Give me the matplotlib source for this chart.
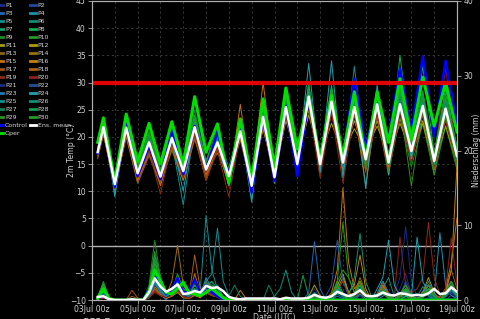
import pandas as pd
import matplotlib
matplotlib.use('Agg')
import matplotlib.pyplot as plt
import matplotlib.dates as mdates
from matplotlib.lines import Line2D
from matplotlib.ticker import MultipleLocator

# 2m temperature: 03Jul 06z, then every 12h up to 19Jul 00z
temp_times = pd.DatetimeIndex([pd.Timestamp('2023-07-03 06:00')]).append(
    pd.date_range('2023-07-03 12:00', '2023-07-19 00:00', freq='12h'))
# precipitation: every 6h from 03Jul 06z to 19Jul 00z
precip_times = pd.date_range('2023-07-03 06:00', '2023-07-19 00:00', freq='6h')

member_names = ['P%d' % i for i in range(1, 31)]
member_colors = ['#1c2c8c', '#1f4aa0', '#2068b0', '#2090b0', '#108f90', '#10907a',
                 '#10a070', '#10b050', '#208a20', '#20a020', '#a0a010', '#b09a10',
                 '#8c6410', '#a07010', '#c87010', '#c88010', '#a05010', '#b06010',
                 '#902a10', '#902020', '#1c2c80', '#1f50a0', '#2078b0', '#20a0b0',
                 '#108f8f', '#10907a', '#108060', '#10a050', '#309020', '#20a020']

temp_members = [
    [17.5, 23.0, 11.0, 21.0, 13.0, 18.5, 12.0, 20.5, 13.0, 27.5, 14.5, 20.0, 12.0, 23.0, 10.5, 25.0, 13.0, 27.0, 14.0, 29.0, 15.5, 28.0, 14.0, 24.0, 16.0, 27.0, 15.0, 28.0, 18.0, 26.0, 14.5, 24.0, 17.0],
    [16.8, 21.5, 11.5, 22.0, 13.5, 18.0, 13.0, 19.0, 14.0, 20.5, 13.5, 18.5, 13.5, 20.0, 11.5, 22.5, 12.0, 24.0, 15.5, 26.0, 14.0, 25.0, 16.0, 27.0, 15.0, 24.0, 16.5, 25.5, 18.5, 27.0, 16.0, 26.0, 15.5],
    [17.3, 22.0, 10.8, 21.5, 12.5, 19.5, 12.5, 20.0, 13.5, 22.5, 15.0, 19.5, 12.0, 21.5, 10.0, 24.5, 11.5, 26.5, 16.0, 28.0, 13.5, 27.0, 15.0, 25.0, 17.0, 28.5, 14.5, 27.0, 17.0, 24.5, 15.0, 27.5, 18.0],
    [17.0, 22.5, 10.0, 22.0, 13.0, 18.0, 12.0, 20.0, 13.0, 21.0, 13.0, 18.0, 12.5, 21.0, 10.0, 23.0, 13.0, 25.0, 14.0, 27.5, 16.0, 26.0, 15.5, 26.5, 15.0, 25.5, 16.0, 26.5, 17.0, 25.0, 17.0, 24.0, 16.0],
    [17.5, 21.5, 9.5, 21.0, 13.5, 19.0, 11.5, 19.0, 7.5, 22.0, 13.5, 20.0, 11.0, 22.0, 8.5, 24.0, 12.0, 26.0, 15.0, 30.0, 14.5, 28.5, 13.5, 33.0, 15.5, 27.5, 14.0, 29.0, 16.0, 28.0, 14.0, 26.0, 16.5],
    [17.0, 22.0, 11.5, 21.5, 14.0, 19.5, 13.5, 19.5, 14.5, 21.5, 14.5, 18.5, 13.0, 20.5, 12.0, 23.0, 13.5, 25.5, 15.5, 27.0, 15.5, 26.0, 16.0, 25.0, 16.5, 25.5, 15.5, 25.0, 17.5, 26.0, 15.5, 25.5, 17.0],
    [17.5, 23.0, 11.5, 22.5, 14.0, 20.0, 13.0, 21.0, 14.0, 23.0, 15.0, 20.5, 13.5, 22.0, 11.5, 24.5, 13.0, 26.5, 15.5, 28.5, 15.0, 28.0, 15.0, 26.0, 16.0, 27.0, 16.0, 27.5, 18.0, 27.0, 16.5, 26.0, 17.5],
    [17.8, 23.5, 12.0, 23.0, 14.5, 20.5, 13.5, 21.0, 14.5, 24.0, 15.5, 21.0, 14.0, 22.5, 12.0, 25.5, 14.0, 27.5, 16.0, 29.0, 16.0, 29.5, 16.5, 27.0, 16.5, 28.0, 15.0, 35.0, 18.5, 33.0, 17.0, 29.0, 18.0],
    [17.0, 22.0, 11.0, 21.0, 13.0, 19.0, 12.0, 19.5, 13.5, 21.0, 13.5, 19.0, 12.0, 21.0, 11.0, 23.5, 12.0, 25.0, 14.5, 26.5, 14.0, 25.5, 13.5, 24.5, 14.0, 24.0, 13.5, 23.5, 14.5, 22.5, 13.0, 22.0, 14.0],
    [17.5, 22.5, 12.0, 22.5, 13.5, 19.5, 13.5, 20.5, 14.0, 22.5, 14.5, 19.5, 13.0, 21.5, 11.0, 24.0, 13.0, 26.0, 15.0, 27.5, 15.5, 27.0, 15.5, 26.5, 16.5, 26.5, 16.0, 26.5, 18.0, 26.0, 16.0, 25.5, 17.0],
    [16.5, 21.0, 11.5, 21.5, 12.5, 18.0, 12.5, 19.5, 13.5, 21.0, 13.0, 17.5, 12.0, 20.0, 11.5, 22.0, 12.5, 24.0, 14.0, 25.0, 15.0, 24.5, 16.0, 23.0, 16.5, 23.0, 15.0, 23.5, 16.5, 22.5, 14.5, 22.0, 15.0],
    [16.8, 21.0, 11.0, 20.5, 12.0, 17.0, 11.5, 18.5, 13.0, 20.5, 14.0, 17.0, 13.5, 20.0, 12.0, 21.5, 13.0, 23.0, 16.0, 24.0, 16.5, 22.5, 17.0, 21.5, 17.5, 22.0, 16.5, 22.5, 17.0, 23.0, 15.5, 23.5, 16.0],
    [16.5, 20.5, 11.0, 20.0, 11.5, 16.5, 11.5, 17.5, 12.0, 19.5, 13.5, 18.0, 12.5, 21.0, 11.5, 24.0, 12.0, 25.0, 14.0, 26.0, 15.0, 28.0, 14.5, 25.0, 15.0, 24.0, 14.0, 25.0, 16.0, 24.0, 14.0, 23.5, 15.5],
    [16.0, 20.5, 10.5, 20.0, 12.0, 17.5, 12.0, 18.5, 12.5, 20.0, 12.5, 17.5, 11.5, 19.5, 10.5, 22.0, 12.0, 24.5, 14.5, 27.0, 14.0, 27.5, 15.0, 26.0, 14.0, 27.0, 14.5, 26.0, 16.0, 25.0, 15.0, 24.5, 16.0],
    [17.0, 21.0, 10.5, 20.5, 12.0, 17.0, 11.0, 18.0, 12.0, 20.0, 12.0, 18.0, 11.0, 26.0, 11.5, 30.0, 13.5, 26.0, 15.0, 25.5, 14.5, 26.0, 14.0, 25.0, 11.0, 26.5, 14.5, 28.0, 17.0, 26.5, 15.0, 25.0, 15.5],
    [17.0, 21.5, 11.0, 21.0, 12.5, 18.0, 12.5, 19.0, 13.0, 21.0, 13.5, 18.5, 12.5, 21.5, 11.0, 24.5, 12.5, 25.5, 14.5, 27.0, 15.0, 27.0, 15.0, 25.5, 15.5, 25.0, 15.5, 25.0, 17.5, 26.0, 15.5, 25.0, 16.5],
    [16.5, 21.0, 10.5, 21.0, 11.5, 17.0, 11.5, 18.0, 12.5, 20.0, 12.5, 17.5, 12.0, 20.5, 10.5, 23.0, 11.5, 25.0, 14.5, 26.0, 13.5, 25.0, 14.5, 24.0, 13.5, 24.0, 13.0, 25.0, 15.5, 24.5, 14.0, 24.0, 15.0],
    [16.8, 21.5, 11.5, 21.5, 13.0, 18.0, 12.0, 19.0, 13.0, 21.0, 13.0, 18.5, 12.5, 21.0, 11.5, 23.5, 12.5, 25.5, 15.0, 27.0, 15.0, 26.0, 15.5, 25.0, 15.0, 25.5, 15.0, 25.5, 17.0, 25.0, 15.5, 25.5, 16.0],
    [16.5, 21.0, 10.5, 20.5, 12.5, 17.5, 9.5, 19.0, 12.5, 20.5, 12.0, 17.5, 9.0, 20.5, 10.0, 22.5, 11.5, 24.0, 13.5, 25.5, 12.5, 24.5, 11.5, 24.5, 14.0, 24.5, 13.5, 24.0, 15.5, 24.5, 14.5, 23.0, 15.0],
    [16.8, 21.5, 11.0, 21.0, 12.5, 18.0, 12.0, 19.0, 13.0, 21.0, 13.5, 18.0, 12.0, 20.5, 11.0, 23.5, 12.0, 25.5, 15.0, 27.5, 14.5, 26.5, 15.0, 26.0, 15.5, 26.5, 15.0, 27.0, 17.0, 26.5, 15.0, 33.0, 16.0],
    [17.2, 22.5, 11.0, 22.0, 13.0, 19.0, 12.5, 20.0, 13.5, 22.0, 14.0, 19.5, 12.5, 21.5, 10.5, 24.5, 12.5, 26.5, 15.0, 28.0, 15.0, 27.0, 15.5, 26.0, 16.0, 26.5, 15.5, 26.5, 17.5, 26.0, 15.5, 25.5, 16.5],
    [17.5, 23.5, 11.5, 22.5, 13.5, 19.5, 13.0, 20.5, 14.0, 23.5, 14.5, 20.5, 13.0, 22.5, 11.5, 25.0, 13.0, 27.0, 15.5, 28.5, 15.5, 28.0, 16.0, 27.5, 16.5, 27.5, 16.0, 28.0, 18.0, 27.5, 16.0, 26.5, 17.5],
    [17.0, 22.0, 11.0, 21.5, 13.5, 19.0, 13.0, 20.0, 14.0, 22.0, 14.0, 19.0, 12.5, 21.0, 10.5, 23.5, 12.0, 25.0, 14.5, 26.5, 14.5, 25.5, 14.5, 25.0, 15.5, 25.5, 15.0, 25.0, 17.0, 25.0, 15.0, 24.5, 16.0],
    [17.0, 23.5, 9.0, 22.5, 13.5, 20.0, 12.0, 19.5, 10.0, 22.5, 14.0, 19.0, 11.0, 21.5, 8.0, 25.0, 11.5, 27.5, 14.0, 33.5, 13.5, 34.0, 12.5, 28.0, 10.5, 29.5, 13.0, 28.5, 16.0, 27.0, 15.0, 26.0, 16.0],
    [17.3, 22.0, 11.5, 22.0, 13.5, 19.5, 13.0, 20.0, 14.0, 21.5, 14.5, 19.5, 13.0, 21.5, 11.5, 24.0, 13.0, 26.0, 15.5, 27.5, 15.5, 27.0, 16.0, 26.5, 16.5, 27.0, 16.0, 27.0, 18.0, 26.5, 16.5, 26.0, 17.0],
    [17.0, 21.5, 11.0, 21.5, 13.0, 19.0, 12.5, 19.5, 13.5, 21.5, 14.0, 19.0, 12.5, 21.0, 11.0, 23.5, 12.5, 25.5, 15.0, 27.0, 15.0, 26.5, 15.0, 25.5, 15.5, 26.0, 15.0, 26.0, 17.0, 25.5, 15.5, 25.0, 16.5],
    [17.5, 22.5, 11.5, 22.5, 14.0, 20.0, 13.0, 21.0, 14.0, 25.0, 14.5, 20.0, 13.0, 22.0, 12.0, 24.0, 13.0, 26.0, 15.5, 28.0, 16.0, 27.5, 15.5, 27.0, 16.0, 26.5, 16.0, 27.5, 18.0, 27.0, 16.0, 26.5, 17.0],
    [17.8, 23.0, 12.0, 23.0, 14.5, 20.5, 14.0, 21.5, 14.5, 23.0, 15.5, 21.0, 14.0, 22.5, 12.5, 25.0, 14.0, 27.0, 16.5, 28.5, 16.0, 28.0, 16.5, 26.5, 17.0, 27.5, 17.0, 28.0, 19.0, 27.5, 17.0, 27.0, 18.0],
    [17.5, 23.0, 11.5, 22.5, 14.0, 20.5, 13.0, 21.0, 14.0, 23.5, 15.0, 20.5, 13.5, 22.0, 11.5, 24.5, 13.0, 26.5, 15.5, 27.0, 15.0, 26.0, 15.0, 25.5, 14.0, 25.5, 13.5, 26.0, 11.0, 25.0, 13.0, 24.0, 14.5],
    [17.8, 23.5, 12.0, 23.5, 14.5, 21.0, 14.0, 21.5, 14.5, 24.0, 15.5, 21.5, 14.0, 23.0, 12.5, 25.5, 14.0, 27.5, 16.0, 29.5, 16.5, 29.0, 16.5, 28.0, 17.0, 28.5, 16.5, 29.0, 18.5, 28.5, 17.0, 28.0, 18.0],
]
temp_control = [17.0, 22.5, 10.8, 22.4, 12.8, 18.4, 12.2, 21.2, 13.2, 22.0, 14.0, 21.0, 13.0, 21.5, 9.8, 23.7, 11.9, 25.7, 12.8, 27.0, 16.0, 27.0, 16.0, 30.7, 17.8, 27.0, 19.6, 32.6, 20.9, 34.8, 20.2, 34.0, 22.0]
temp_oper = [19.0, 23.5, 11.9, 24.2, 15.4, 22.5, 15.0, 22.8, 15.0, 27.4, 17.2, 22.4, 11.5, 23.3, 12.2, 27.0, 14.6, 29.0, 17.8, 27.0, 16.0, 27.6, 16.5, 28.3, 16.0, 28.3, 19.0, 30.7, 19.6, 31.0, 22.0, 30.0, 20.9]
temp_mean = [17.2, 21.8, 11.3, 21.7, 13.3, 19.0, 12.7, 19.8, 13.7, 21.8, 14.0, 19.0, 12.8, 21.0, 11.0, 23.7, 12.6, 25.5, 15.0, 27.4, 15.0, 26.5, 15.3, 25.5, 15.9, 26.0, 15.3, 26.0, 17.4, 25.7, 15.6, 25.2, 16.5]

precip_members = [
    [0.3, 0.8, 0.1, 0, 0, 0, 0, 0, 0, 0.5, 2.0, 1.2, 0.3, 1.0, 1.5, 0.4, 0.6, 1.0, 0.3, 2.5, 1.0, 0.8, 0.2, 0, 0, 0, 0, 0, 0, 0, 0, 0,
     0, 0, 0, 0, 0, 0.5, 1.5, 0.3, 0, 0.4, 2.0, 0.8, 0, 0.5, 1.2, 0.2, 0, 0, 0.8, 0.3, 0, 1.5, 3.5, 0.6, 0, 0.4, 1.0, 0.2, 0, 0.8, 2.0, 0.5],
    [0.2, 0.5, 0, 0, 0, 0, 0, 0, 0, 0.8, 3.0, 1.5, 0.5, 0.6, 2.0, 0.5, 0.3, 1.5, 0.8, 1.0, 2.5, 0.6, 0, 0, 0, 0, 0, 0, 0, 0, 0, 0,
     0, 0, 0, 0, 0, 0, 0.4, 0, 0, 0, 1.0, 0.3, 0, 0, 0.6, 0, 0.3, 0, 0, 0, 0, 0.5, 2.5, 1.0, 0.5, 0, 0.3, 0, 0, 0, 0.6, 0.2],
    [0.4, 1.0, 0.2, 0, 0, 0, 0, 0, 0, 0.3, 1.5, 0.8, 0, 1.2, 3.0, 0.6, 0.2, 0.8, 0.5, 1.5, 0.8, 2.0, 0.5, 0, 0, 0, 0, 0, 0, 0, 0, 0,
     0, 0, 0, 0, 0, 1.0, 7.8, 1.5, 0, 0, 0.5, 0.2, 0, 0, 0.8, 0.3, 0, 0.6, 1.5, 0.4, 0, 0, 0.5, 0, 0, 1.2, 0.5, 0, 0.3, 0.6, 1.0, 0.4],
    [0.3, 0.6, 0, 0, 0, 0, 0, 0, 0, 0.6, 2.5, 1.0, 0.5, 0.8, 1.2, 0.3, 0.4, 1.2, 0.6, 3.0, 1.5, 0.6, 0.2, 0, 0, 0, 0, 0, 0, 0, 0, 0,
     0, 0, 0, 0, 0, 0, 0.6, 0.2, 0, 0.3, 1.2, 0.5, 0, 0.8, 2.0, 0.4, 0, 0, 0.5, 1.0, 0.2, 0, 0.6, 0.3, 0, 0.5, 1.5, 0.5, 9.0, 2.0, 0.6, 0.2],
    [0.5, 1.5, 0.2, 0, 0, 0, 0, 0, 0, 0.8, 3.5, 2.0, 0.6, 1.0, 2.5, 0.8, 0.5, 2.0, 1.5, 11.3, 4.0, 1.5, 0.5, 0, 0, 0, 0, 0, 0, 0, 0, 0,
     0, 0, 0, 0, 0, 0.3, 1.0, 0.4, 0, 0.6, 2.5, 1.0, 0, 0.4, 1.5, 0.6, 0.2, 0.8, 2.5, 0.8, 0, 0.5, 1.2, 0.3, 0.4, 1.8, 0.6, 0, 0.5, 1.5, 2.5, 0.8],
    [0.4, 2.0, 0.3, 0, 0, 0, 0, 0, 0, 0.5, 2.0, 1.0, 0.4, 0.8, 1.5, 0.5, 0.3, 1.0, 0.6, 2.0, 1.2, 0.8, 0.3, 0, 0, 0, 0, 0, 0, 0, 0, 0.5,
     1.5, 4.0, 1.0, 0, 0, 0, 0.5, 0.2, 0, 0.2, 1.0, 0.5, 0, 0.3, 0.8, 0.2, 0, 0.3, 1.5, 3.0, 0.5, 0, 1.0, 0.4, 0, 0.6, 1.5, 0.5, 0, 0.8, 1.8, 0.6],
    [0.3, 1.2, 0.2, 0, 0, 0, 0, 0, 0, 1.2, 5.0, 2.5, 0.8, 1.5, 2.0, 1.0, 0.6, 1.5, 0.8, 2.2, 1.5, 1.0, 0.2, 0, 0, 0, 0, 0, 0, 0, 0, 0,
     0, 0, 0, 0, 0, 0, 0.3, 0, 0, 0, 0.8, 0.4, 0, 0.6, 1.5, 0.5, 0, 0.4, 0.8, 0.2, 0, 0.6, 1.0, 0.3, 0, 0.3, 0.8, 0.2, 0, 0.5, 1.0, 0.4],
    [0.3, 1.8, 0.2, 0, 0, 0, 0, 0, 0, 1.5, 6.0, 3.0, 1.0, 1.2, 2.5, 1.2, 0.8, 2.0, 1.0, 1.8, 2.5, 1.5, 0.4, 0, 0, 0, 0, 0, 0, 0, 0, 0,
     0, 0, 0, 0, 0, 0, 0.5, 0.2, 0, 0.4, 1.5, 0.6, 0, 0.8, 2.0, 0.5, 0, 0.5, 1.2, 0.4, 0, 0, 0.5, 0.2, 0, 0.6, 1.5, 0.6, 0, 0.4, 1.2, 0.6],
    [0.4, 2.5, 0.3, 0, 0, 0, 0, 0, 0, 2.0, 8.0, 3.0, 1.0, 1.5, 2.0, 1.0, 0.5, 1.2, 0.6, 1.5, 1.0, 0.8, 0.2, 0, 0, 0, 0, 0, 0, 0, 0, 0,
     0, 0, 0, 0, 0, 0, 0.4, 0.2, 0, 0.3, 1.5, 0.8, 0, 1.0, 2.5, 0.6, 0, 0.3, 1.0, 0.3, 0, 0.4, 0.8, 0.2, 0, 0.5, 1.2, 0.4, 0, 0.6, 1.5, 0.5],
    [0.3, 1.5, 0.2, 0, 0, 0, 0, 0, 0, 1.0, 4.5, 2.0, 0.8, 1.2, 3.5, 1.5, 0.8, 1.5, 0.5, 2.0, 1.2, 0.6, 0.2, 0, 0, 0, 0, 0, 0, 0, 0, 0,
     0, 0, 0, 0, 0, 0, 0.5, 0.3, 0, 0.5, 2.5, 10.4, 3.0, 1.0, 1.5, 0.4, 0, 0.4, 1.2, 0.5, 0, 0.6, 1.5, 0.4, 0, 0.6, 2.0, 0.5, 0.2, 0.8, 1.8, 0.6],
    [0.2, 0.4, 0, 0, 0, 0, 0, 0, 0, 0.3, 1.2, 0.6, 0.2, 0.5, 1.0, 0.3, 0.2, 0.6, 0.3, 1.0, 0.6, 0.4, 0, 0, 0, 0, 0, 0, 0, 0, 0, 0,
     0, 0, 0, 0, 0, 0, 0.6, 0.2, 0, 0.5, 2.0, 3.5, 1.0, 0.5, 1.2, 0.3, 0, 0.8, 2.5, 0.6, 0, 0.5, 1.0, 0.4, 0, 0.8, 2.0, 0.6, 0, 1.0, 2.5, 0.8],
    [0.2, 0.3, 0, 0, 0, 0, 0, 0, 0, 0.4, 1.5, 0.8, 0.3, 0.6, 1.2, 0.4, 0.2, 0.8, 0.4, 1.2, 0.8, 0.5, 0.1, 0, 0, 0, 0, 0, 0, 0, 0, 0,
     0, 0, 0, 0, 0, 0.5, 2.0, 0.6, 0, 0.3, 1.2, 0.5, 0, 0.8, 2.5, 0.8, 0, 0.5, 1.5, 0.5, 0, 0.8, 2.0, 0.6, 0.2, 1.0, 3.0, 1.0, 0, 0.6, 1.5, 0.5],
    [0.2, 0.5, 0, 0, 0, 0, 0.5, 0.2, 0, 0.4, 1.5, 0.8, 0.4, 1.0, 1.8, 0.6, 0.3, 1.0, 0.5, 1.5, 1.0, 0.6, 0.2, 0, 0, 0, 0, 0, 0, 0, 0, 0,
     0, 0, 0, 0, 0, 0, 0.8, 0.3, 0, 0.6, 1.5, 0.6, 0, 1.0, 3.0, 1.0, 0, 0.6, 2.0, 0.8, 0, 0.4, 1.0, 0.3, 0, 0.6, 1.5, 0.6, 0.3, 1.2, 4.0, 1.5],
    [0.2, 0.4, 0, 0, 0, 0, 0, 0, 0, 0.6, 2.0, 1.0, 0.6, 2.5, 7.3, 2.0, 0.6, 1.5, 0.8, 2.5, 1.5, 0.8, 0.2, 0, 0, 0, 0, 0, 0, 0, 0, 0,
     0, 0, 0, 0, 0, 0, 0.5, 0.2, 0, 0.4, 1.5, 0.6, 0, 0.6, 1.5, 0.5, 0, 0.4, 1.0, 0.3, 0, 0.5, 1.2, 0.4, 0, 0.4, 1.2, 0.4, 0, 0.6, 1.5, 0.5],
    [0.2, 0.4, 0, 0, 0, 0, 0, 0, 0, 0.4, 1.2, 0.8, 0.4, 1.0, 2.0, 0.8, 0.4, 3.5, 1.0, 1.5, 0.8, 0.5, 0.1, 0, 0, 1.3, 0.2, 0, 0, 0, 0, 0,
     0, 0, 0, 0, 0, 0, 0.6, 0.3, 0, 1.0, 4.0, 15.0, 5.0, 1.5, 2.5, 0.8, 0, 0.6, 2.0, 0.6, 0, 0.8, 1.5, 0.5, 0, 0.8, 2.0, 0.8, 0.3, 1.5, 5.0, 11.0],
    [0.2, 0.5, 0, 0, 0, 0, 0, 0, 0, 0.5, 1.8, 1.0, 0.5, 1.2, 2.5, 1.0, 0.5, 2.5, 1.2, 1.8, 1.0, 0.6, 0.2, 0, 0, 0, 0, 0, 0, 0, 0, 0,
     0, 0, 0, 0, 0, 0, 0.4, 0.2, 0, 0.4, 1.5, 3.0, 1.0, 2.0, 6.0, 1.5, 0, 0.5, 1.5, 0.5, 0, 0.6, 1.2, 0.4, 0, 0.6, 1.5, 0.5, 0.2, 1.0, 4.0, 18.0],
    [0.2, 0.3, 0, 0, 0, 0, 1.3, 0.3, 0, 0.3, 1.2, 0.6, 0.3, 0.8, 1.5, 0.5, 0.3, 1.0, 0.5, 1.2, 0.8, 0.5, 0.1, 0, 0, 0, 0, 0, 0, 0, 0, 0,
     0, 0, 0, 0, 0, 0, 0.3, 0, 0, 0.3, 1.2, 2.5, 0.8, 0.4, 1.0, 0.3, 0, 0.8, 2.5, 1.0, 0, 0.5, 1.5, 0.6, 0, 0.6, 1.5, 0.6, 0, 0.8, 2.0, 0.8],
    [0.2, 0.4, 0, 0, 0, 0, 0, 0, 0, 0.4, 1.5, 0.8, 0.4, 1.0, 2.0, 0.8, 0.5, 6.0, 1.5, 2.0, 1.2, 0.6, 0.2, 0, 0, 0, 0, 0, 0, 0, 0, 0,
     0, 0, 0, 0, 0, 0, 0.6, 0.2, 0, 0.5, 1.8, 0.8, 0, 0.8, 2.5, 0.8, 0, 0.6, 1.8, 0.6, 0, 0.4, 1.0, 0.3, 0, 0.5, 1.2, 0.4, 0, 0.5, 1.2, 0.4],
    [0.2, 0.3, 0, 0, 0, 0, 0, 0, 0, 0.3, 1.0, 0.6, 0.3, 0.6, 1.2, 0.4, 0.2, 0.8, 0.4, 1.0, 0.6, 0.4, 0.1, 0, 0, 0, 0, 0, 0, 0, 0, 0,
     0, 0, 0, 0, 0, 0, 0.5, 0.2, 0, 0.5, 1.5, 0.6, 0, 0.6, 1.5, 0.5, 0, 0.5, 1.2, 0.5, 0, 0.8, 2.0, 1.0, 1.5, 3.0, 10.4, 3.0, 0.8, 1.0, 2.0, 0.6],
    [0.2, 0.3, 0, 0, 0, 0, 0, 0, 0, 0.4, 1.2, 0.6, 0.3, 0.8, 1.5, 0.5, 0.3, 1.0, 0.5, 1.2, 0.8, 0.5, 0.1, 0, 0, 0, 0, 0, 0, 0, 0, 0,
     0, 0, 0, 0, 0, 0, 0.4, 0.2, 0, 0.4, 1.2, 0.5, 0, 0.5, 1.2, 0.4, 0, 0.5, 1.5, 0.6, 0.5, 8.4, 2.0, 0.6, 0, 0.5, 1.5, 0.6, 0.2, 1.5, 8.3, 2.0],
    [0.3, 0.6, 0.1, 0, 0, 0, 0, 0, 0, 0.5, 2.0, 1.0, 0.4, 0.8, 1.8, 0.6, 0.4, 1.2, 0.6, 1.5, 1.0, 0.6, 0.2, 0, 0, 0, 0, 0, 0, 0, 0, 0,
     0, 0, 0, 0, 0, 0, 0.5, 0.2, 0, 0.3, 1.0, 0.4, 0, 0.5, 1.2, 0.4, 0, 0.4, 1.2, 0.5, 0.8, 3.0, 9.8, 2.5, 0.5, 0.4, 1.0, 0.3, 0, 0.5, 1.0, 0.3],
    [0.3, 0.7, 0.1, 0, 0, 0, 0, 0, 0, 0.6, 2.5, 1.2, 0.5, 1.0, 2.2, 0.8, 0.5, 1.5, 0.8, 2.0, 1.2, 0.8, 0.2, 0, 0, 0, 0, 0, 0, 0, 0, 0,
     0, 0, 0, 0, 0, 0, 0.8, 0.3, 0.5, 2.0, 8.0, 2.5, 0.5, 0.6, 1.5, 0.5, 0, 0.5, 1.5, 0.5, 0, 0.6, 1.5, 0.5, 0, 0.6, 1.5, 0.5, 0, 0.5, 1.2, 0.4],
    [0.3, 0.8, 0.1, 0, 0, 0, 0, 0, 0, 0.5, 2.2, 1.0, 0.5, 1.0, 2.0, 0.8, 0.5, 1.2, 0.6, 1.5, 1.0, 0.6, 0.2, 0, 0, 0, 0, 0, 0, 0, 0, 0,
     0, 0, 0, 0, 0, 0, 0.5, 0.2, 0, 0.5, 1.5, 0.6, 0, 0.8, 2.0, 0.6, 0, 0.8, 2.5, 0.8, 0, 0.6, 1.5, 0.5, 0, 0.8, 2.5, 0.8, 0, 0.8, 2.0, 0.6],
    [0.4, 1.2, 0.2, 0, 0, 0, 0, 0, 0, 0.8, 2.5, 1.2, 0.5, 1.2, 2.5, 1.0, 0.6, 1.5, 0.8, 2.0, 1.5, 1.0, 0.3, 0, 0, 0, 0, 0, 0, 0, 0, 0,
     0, 0, 0, 0, 0, 0, 0.6, 0.3, 0, 0.5, 1.5, 0.6, 0, 0.8, 2.0, 0.6, 0, 1.5, 3.0, 8.0, 2.0, 0.5, 1.2, 0.5, 8.4, 2.5, 1.0, 0.4, 0, 0.6, 1.5, 0.5],
    [0.5, 2.2, 0.3, 0, 0, 0, 0, 0, 0, 0.6, 2.5, 1.2, 0.5, 1.0, 2.0, 0.8, 0.6, 1.5, 1.0, 2.5, 3.5, 9.6, 2.5, 0.6, 0, 0, 0, 0, 0, 0, 0, 0,
     0, 0, 0, 0, 0, 0, 0.5, 0.2, 0, 0.4, 1.2, 0.5, 0, 0.6, 1.5, 0.5, 0, 0.5, 1.5, 0.5, 0, 0.8, 2.0, 0.6, 0, 0.5, 1.5, 0.5, 0, 0.6, 1.5, 0.5],
    [0.4, 1.8, 0.2, 0, 0, 0, 0, 0, 0, 0.8, 3.0, 1.5, 0.6, 1.0, 1.8, 0.8, 0.5, 1.2, 0.8, 1.8, 1.2, 0.8, 0.2, 0, 0, 0, 0, 0, 0, 0, 0, 0,
     0, 0, 0, 0, 0, 0, 0.4, 0.2, 0, 0.5, 1.5, 0.8, 0.5, 3.0, 8.9, 2.5, 0.5, 0.6, 1.5, 0.5, 0, 0.6, 1.5, 0.5, 0, 0.6, 1.5, 0.5, 0, 0.8, 2.0, 0.6],
    [0.4, 1.5, 0.2, 0, 0, 0, 0, 0, 0, 1.0, 3.5, 1.8, 0.6, 1.2, 2.0, 1.0, 0.6, 1.5, 0.8, 2.0, 1.5, 1.0, 0.3, 0.5, 2.0, 0.5, 0, 0, 0, 0, 2.0, 0.4,
     0, 0, 0, 0, 0, 0, 0.5, 0.2, 0, 0.4, 1.2, 0.5, 0, 0.6, 1.5, 0.5, 0, 0.5, 1.2, 0.4, 0, 0.6, 1.5, 0.5, 0, 0.5, 1.2, 0.4, 0, 0.8, 2.5, 0.8],
    [0.4, 2.0, 0.3, 0, 0, 0, 0, 0, 0, 1.5, 5.5, 2.5, 1.0, 1.2, 2.5, 1.5, 0.8, 2.0, 1.0, 2.0, 2.0, 1.2, 0.3, 0, 0, 0, 0, 0, 0, 0, 0, 0,
     0, 0, 0, 0, 3.3, 0.5, 0.5, 0.2, 0, 0.5, 2.0, 0.8, 0, 0.6, 1.5, 0.5, 0, 0.5, 1.5, 0.5, 0, 0.6, 1.5, 0.5, 0, 0.5, 1.5, 0.5, 0, 0.8, 2.0, 0.6],
    [0.4, 2.0, 0.3, 0, 0, 0, 0, 0, 0, 1.5, 6.5, 3.0, 1.2, 1.5, 3.0, 1.2, 0.8, 2.0, 1.0, 2.2, 1.8, 1.0, 0.3, 0, 0, 0, 0, 0, 0, 0, 0, 0,
     0, 0, 0, 0, 0, 0, 0.5, 0.2, 0, 0.6, 2.5, 4.0, 3.0, 1.0, 2.5, 0.8, 0, 0.6, 1.5, 0.6, 0, 0.8, 2.0, 0.6, 0, 0.8, 2.0, 0.6, 0, 1.0, 2.5, 0.8],
    [0.4, 2.2, 0.3, 0, 0, 0, 0, 0, 0, 1.2, 5.0, 2.5, 1.0, 1.5, 2.5, 1.2, 0.8, 2.5, 1.2, 2.0, 1.5, 1.0, 0.3, 0, 0, 0, 0, 0, 0, 0, 0, 0,
     0, 0, 0, 0, 0, 0, 0.6, 0.2, 0, 0.5, 2.0, 0.8, 0, 0.8, 2.0, 0.6, 0, 0.5, 1.2, 0.4, 0, 0.6, 1.5, 0.5, 0, 0.6, 1.5, 0.5, 0, 0.8, 2.0, 0.6],
]
precip_control = [0.3, 0.5, 0.1, 0, 0, 0, 0, 0, 0, 1.5, 3.6, 2.0, 0.8, 1.5, 2.9, 1.0, 1.2, 2.7, 1.0, 2.0, 1.0, 0.5, 0.1, 0, 0, 0, 0, 0, 0, 0, 0, 0,
                  0, 0, 0, 0, 0, 0, 0, 0, 0, 0, 0, 0, 0, 0, 0, 0, 0, 0, 0, 0, 0, 0, 0, 0, 0, 0, 0, 0, 0, 0, 0, 0]
precip_oper = [0.2, 1.5, 0.2, 0, 0, 0, 0, 0, 0, 1.2, 4.0, 2.5, 1.0, 0.8, 1.5, 2.4, 1.0, 0.8, 0.6, 1.0, 1.6, 0.9, 0.3, 0, 0, 0, 0, 0, 0, 0, 0, 0,
               0, 0, 0, 0, 0, 0, 0, 0, 0, 0, 0, 0, 0, 0, 0, 0, 0, 0, 0, 0, 0, 0, 0, 0, 0, 0, 0, 0, 0, 0, 0, 0]
precip_mean = [0.4, 0.5, 0.1, 0, 0, 0, 0.1, 0, 0, 1.0, 2.9, 1.8, 1.1, 1.5, 2.1, 0.8, 0.9, 1.2, 1.0, 1.9, 1.6, 1.7, 1.2, 0.4, 0.2, 0.1, 0.2, 0.2, 0.2, 0.2, 0.2, 0.2,
               0.1, 0.3, 0.2, 0.2, 0.2, 0.3, 0.7, 0.4, 0.3, 0.5, 1.1, 0.8, 0.5, 0.8, 1.3, 0.6, 0.5, 0.6, 1.0, 0.7, 0.6, 0.9, 0.8, 0.6, 0.7, 0.6, 0.9, 1.5, 0.8, 0.9, 1.7, 1.1]

txt = '#d0d0d0'
c_control = '#0000ff'
c_oper = '#00e000'
c_mean = '#ffffff'

fig = plt.figure(figsize=(4.8, 3.19), dpi=100, facecolor='black')
ax = fig.add_axes([92/480, 19/319, 365/480, 299/319])
ax.set_facecolor('black')
ax2 = ax.twinx()

# temperature
for vals, col in zip(temp_members, member_colors):
    ax.plot(temp_times, vals, color=col, lw=0.7)
ax.plot(temp_times, temp_control, color=c_control, lw=1.8)
ax.plot(temp_times, temp_oper, color=c_oper, lw=2.2)
ax.plot(temp_times, temp_mean, color=c_mean, lw=1.8)
ax.axhline(30, color='#e00000', lw=3)
ax.axhline(0, color='#b0b0b0', lw=1)

# precipitation
for vals, col in zip(precip_members, member_colors):
    ax2.plot(precip_times, vals, color=col, lw=0.7)
ax2.plot(precip_times, precip_control, color=c_control, lw=1.8)
ax2.plot(precip_times, precip_oper, color=c_oper, lw=2.2)
ax2.plot(precip_times, precip_mean, color=c_mean, lw=1.8)

ax.set_xlim(pd.Timestamp('2023-07-03'), pd.Timestamp('2023-07-19'))
ax.set_ylim(-10, 45)
ax2.set_ylim(0, 40)
ax.xaxis.set_major_locator(mdates.DayLocator(bymonthday=[3, 5, 7, 9, 11, 13, 15, 17, 19]))
ax.xaxis.set_minor_locator(mdates.DayLocator())
ax.xaxis.set_major_formatter(mdates.DateFormatter('%d%b %Hz'))
ax.yaxis.set_major_locator(MultipleLocator(5))
ax2.yaxis.set_major_locator(MultipleLocator(10))
ax2.yaxis.set_minor_locator(MultipleLocator(2))

ax.grid(True, which='both', axis='x', color='#3a3a3a', ls=(0, (2, 3)), lw=0.7)
ax.grid(True, which='major', axis='y', color='#3a3a3a', ls=(0, (2, 3)), lw=0.7)

for a in (ax, ax2):
    for s in a.spines.values():
        s.set_color('#b0b0b0')
        s.set_linewidth(0.8)
    a.tick_params(colors='#b0b0b0', labelcolor=txt, labelsize=5.5, length=3, width=0.6, pad=1.5)
    a.tick_params(which='minor', length=2, width=0.5)
ax.tick_params(axis='x', pad=0.5, labelsize=5.6)

ax.set_ylabel('2m Temp (°C)', color=txt, fontsize=5.6)
ax.yaxis.set_label_coords(-0.043, 0.5)
ax2.set_ylabel('Niederschlag (mm)', color=txt, fontsize=5.5)
ax2.yaxis.set_label_coords(1.041, 0.5)
ax.set_xlabel('Date (UTC)', color=txt, fontsize=5.6)
ax.xaxis.set_label_coords(0.5, -0.042)

# legend, two columns filled row by row
handles = [Line2D([], [], color=c, lw=2) for c in member_colors]
col1 = [(handles[i], member_names[i]) for i in range(0, 30, 2)]
col1 += [(Line2D([], [], color=c_control, lw=2), 'Control'), (Line2D([], [], color=c_oper, lw=2), 'Oper')]
col2 = [(handles[i], member_names[i]) for i in range(1, 30, 2)]
col2 += [(Line2D([], [], color=c_mean, lw=2), 'Ens. mean')]
items = col1 + col2
fig.legend([h for h, _ in items], [l for _, l in items], loc='upper left',
           bbox_to_anchor=(-0.008, 0.994), ncol=2, frameon=False, fontsize=4.5,
           handlelength=1.0, handletextpad=0.3, columnspacing=0.3, labelspacing=0.42,
           labelcolor='#d8d8d8', borderpad=0.1, borderaxespad=0)

fig.text(0.17, 1/319, 'GFS Ensemble vom 03.Jul 00z', color=txt, fontsize=7, va='top')
fig.text(0.76, 1/319, 'Wetterzentrale', color=txt, fontsize=7, va='top')

fig.savefig('out.png', dpi=100, facecolor='black')
